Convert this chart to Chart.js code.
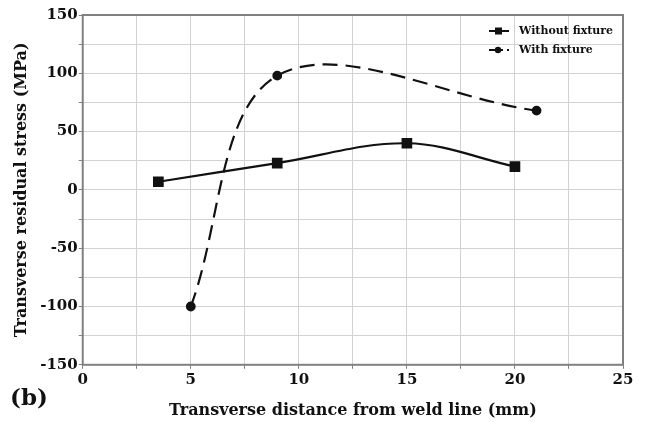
<!DOCTYPE html>
<html>
<head>
<meta charset="utf-8">
<script src="https://cdn.jsdelivr.net/npm/chart.js@4/dist/chart.umd.min.js"></script>
<style>
  html, body { margin: 0; padding: 0; background: #fff; }
</style>
</head>
<body>
<canvas id="grafico" width="647" height="422"></canvas>
<script>
// datos
const sinFijacionX = [3.5, 9, 15, 20];
const sinFijacionY = [7, 23, 40, 20];
const conFijacionX = [5, 9, 21];
const conFijacionY = [-100, 98, 68];
const nombres = ['Without fixture', 'With fixture'];

const fuente = "'DejaVu Serif', serif";
const negro = '#111';

function puntos(xs, ys) {
  return xs.map((x, i) => ({ x: x, y: ys[i] }));
}

// marco gris alrededor del area del grafico
const marco = {
  id: 'marco',
  afterDatasetsDraw(chart) {
    const ctx = chart.ctx;
    const a = chart.chartArea;
    ctx.save();
    ctx.strokeStyle = '#808080';
    ctx.lineWidth = 2;
    ctx.strokeRect(a.left, a.top, a.right - a.left, a.bottom - a.top);
    ctx.restore();
  }
};

// leyenda dentro del area del grafico
const leyendaInterna = {
  id: 'leyendaInterna',
  afterDraw(chart) {
    const ctx = chart.ctx;
    const area = chart.chartArea;
    const x0 = area.right - 134;
    const filas = [area.top + 16, area.top + 35];
    ctx.save();
    chart.data.datasets.forEach((ds, i) => {
      const y = filas[i];
      ctx.strokeStyle = negro;
      ctx.fillStyle = negro;
      ctx.lineWidth = 2;
      ctx.beginPath();
      ctx.moveTo(x0, y);
      ctx.lineTo(x0 + (i === 1 ? 14 : 20), y);
      ctx.stroke();
      if (i === 0) {
        ctx.fillRect(x0 + 6, y - 3.5, 7, 7);
      } else {
        ctx.beginPath();
        ctx.arc(x0 + 9, y, 3.2, 0, Math.PI * 2);
        ctx.fill();
        ctx.fillRect(x0 + 18, y - 1, 2, 2);
      }
      ctx.font = "bold 11px " + fuente;
      ctx.textBaseline = 'middle';
      ctx.fillText(ds.label, x0 + 30, y);
    });
    // etiqueta (b)
    ctx.font = "bold 23px " + fuente;
    ctx.textBaseline = 'alphabetic';
    ctx.fillText('(b)', 10, 405);
    ctx.restore();
  }
};

new Chart(document.getElementById('grafico'), {
  type: 'scatter',
  data: {
    datasets: [
      {
        label: nombres[0],
        data: puntos(sinFijacionX, sinFijacionY),
        showLine: true,
        borderColor: negro,
        backgroundColor: negro,
        borderWidth: 2.2,
        pointStyle: 'rect',
        pointRadius: 6,
        tension: 0.35
      },
      {
        label: nombres[1],
        data: puntos(conFijacionX, conFijacionY),
        showLine: true,
        borderColor: negro,
        backgroundColor: negro,
        borderWidth: 2.2,
        borderDash: [15, 8],
        pointStyle: 'circle',
        pointRadius: 3.8,
        tension: 0.35
      }
    ]
  },
  options: {
    responsive: false,
    animation: false,
    layout: { padding: { top: 15, right: 24, left: 4, bottom: 0 } },
    plugins: {
      legend: { display: false },
      tooltip: { enabled: false }
    },
    scales: {
      x: {
        type: 'linear',
        min: 0,
        max: 25,
        border: { display: false },
        grid: { color: '#d2d2d2', tickLength: 4, tickColor: '#808080' },
        ticks: {
          stepSize: 2.5,
          color: negro,
          font: { family: fuente, size: 15, weight: 'bold' },
          padding: 2,
          callback: v => (v % 5 === 0 ? v : '')
        },
        title: {
          display: true,
          text: 'Transverse distance from weld line (mm)',
          color: negro,
          font: { family: fuente, size: 16, weight: 'bold' },
          padding: { top: 10, bottom: 2 }
        }
      },
      y: {
        min: -150,
        max: 150,
        border: { display: false },
        grid: { color: '#d2d2d2', tickLength: 4, tickColor: '#808080' },
        ticks: {
          stepSize: 25,
          color: negro,
          font: { family: fuente, size: 15, weight: 'bold' },
          padding: 1,
          callback: v => (v % 50 === 0 ? v : '')
        },
        title: {
          display: true,
          text: 'Transverse residual stress (MPa)',
          color: negro,
          font: { family: fuente, size: 16, weight: 'bold' },
          padding: { top: 8, bottom: 8 }
        }
      }
    }
  },
  plugins: [marco, leyendaInterna]
});
</script>
</body>
</html>
